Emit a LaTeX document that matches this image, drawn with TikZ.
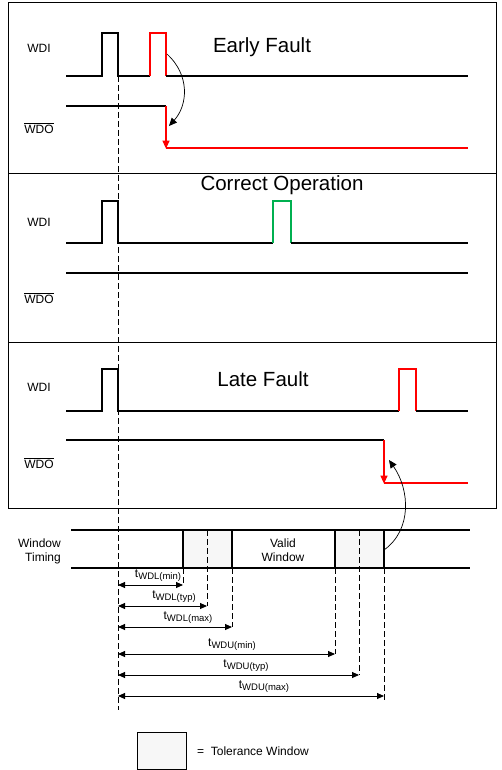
\documentclass[tikz,border=0pt]{standalone}
\usepackage{fontspec}
\setmainfont{Liberation Sans}
\usetikzlibrary{arrows.meta}
\definecolor{tolfill}{HTML}{F7F7F7}
\definecolor{okgreen}{HTML}{00B050}
\newcommand{\tsub}[1]{t\raisebox{-2.5pt}{\fontsize{9.5}{11}\selectfont #1}}
\begin{document}
\begin{tikzpicture}[x=1pt,y=-1pt,
  panel/.style={draw=black,line width=0.9pt},
  sig/.style={line width=1.3pt,line join=miter},
  redsig/.style={sig,draw=red},
  greensig/.style={sig,draw=okgreen},
  lbl/.style={font=\fontsize{12}{14}\selectfont,inner sep=0pt},
  title/.style={font=\fontsize{20.5}{24}\selectfont,inner sep=0pt},
  sub/.style={font=\fontsize{12}{14}\selectfont,inner sep=0pt,anchor=south},
  guide/.style={dash pattern=on 6pt off 3pt,line width=0.8pt},
  dim/.style={{Triangle[length=7pt,width=6pt]}-{Triangle[length=7pt,width=6pt]},line width=0.9pt},
  curv/.style={-{Triangle[length=8pt,width=7pt]},line width=0.7pt},
  tol/.style={fill=tolfill,draw=none},
  edge/.style={line width=1.6pt}]
\useasboundingbox (0,0) rectangle (501,770);
\fill[white] (0,0) rectangle (501,770);
% panels
\draw[panel] (8,2) rectangle (496,173);
\draw[panel] (8,173) rectangle (496,342);
\draw[panel] (8,342) rectangle (496,508);
% main guide
\coordinate (g0) at (118,76);
\coordinate (g1) at (118,710);
\draw[guide] (g0) -- (g1);

% ---------- Early Fault ----------
\node[lbl] (wdi1) at (39,48) {WDI};
\node[lbl] (wdo1) at (39,128) {$\overline{\mbox{WDO}}$};
\node[title] (t1) at (262,47) {Early Fault};
\draw[sig] (66,76) -- (102,76) -- (102,33) -- (118,33) -- (118,76) -- (150,76);
\draw[redsig] (150,76) -- (150,33) -- (166,33) -- (166,76);
\draw[sig] (166,76) -- (468,76);
\draw[sig] (66,106) -- (166,106);
\draw[redsig,-{Triangle[length=8pt,width=7pt]}] (166,106) -- (166,148.6);
\draw[redsig] (166,148) -- (468,148);
\coordinate (ea) at (167,54);
\coordinate (eb) at (169,126);
\draw[curv] (ea) .. controls (190,75) and (188,105) .. (eb);

% ---------- Correct Operation ----------
\node[lbl] (wdi2) at (39,222) {WDI};
\node[lbl] (wdo2) at (39,298) {$\overline{\mbox{WDO}}$};
\node[title] (t2) at (282,185) {Correct Operation};
\draw[sig] (66,243) -- (102,243) -- (102,201) -- (118,201) -- (118,243) -- (273,243);
\draw[greensig] (273,243) -- (273,201) -- (291,201) -- (291,243);
\draw[sig] (291,243) -- (468,243);
\draw[sig] (66,273) -- (468,273);

% ---------- Late Fault ----------
\node[lbl] (wdi3) at (39,387) {WDI};
\node[lbl] (wdo3) at (39,463) {$\overline{\mbox{WDO}}$};
\node[title] (t3) at (263,379) {Late Fault};
\draw[sig] (66,411) -- (102,411) -- (102,369) -- (118,369) -- (118,411) -- (399,411);
\draw[redsig] (399,411) -- (399,369) -- (416,369) -- (416,411);
\draw[sig] (416,411) -- (468,411);
\draw[sig] (66,440) -- (384,440);
\draw[redsig,-{Triangle[length=8pt,width=7pt]}] (384,440) -- (384,483.6);
\draw[redsig] (384,483) -- (468,483);

% ---------- Window timing ----------
\fill[tol] (183,530) rectangle (232,568);
\fill[tol] (335,530) rectangle (384,568);
\draw[sig] (71,530) -- (470,530);
\draw[sig] (71,568) -- (470,568);
\draw[edge] (183,530) -- (183,568);
\draw[edge] (232,530) -- (232,568);
\draw[edge] (335,530) -- (335,568);
\draw[edge] (384,530) -- (384,568);
\node[lbl,align=right,anchor=east] (wt) at (61,551) {Window\\Timing};
\node[lbl,align=center] (vw) at (283,550) {Valid\\Window};

\coordinate (la) at (384,550);
\coordinate (lb) at (389,460);
\draw[curv] (la) .. controls (412,530) and (410,490) .. (lb);

% guides
\draw[guide] (183,568) -- (183,585);
\draw[guide] (207,530) -- (207,606);
\draw[guide] (232,568) -- (232,627);
\draw[guide] (335,568) -- (335,654);
\draw[guide] (359,530) -- (359,675);
\draw[guide] (384,568) -- (384,700);

% dimension arrows
\coordinate (s1) at (118,585); \coordinate (e1) at (183,585);
\coordinate (s2) at (118,606); \coordinate (e2) at (207,606);
\coordinate (s3) at (118,627); \coordinate (e3) at (232,627);
\coordinate (s4) at (118,654); \coordinate (e4) at (335,654);
\coordinate (s5) at (118,675); \coordinate (e5) at (359,675);
\coordinate (s6) at (118,696); \coordinate (e6) at (384,696);
\draw[dim] (s1) -- (e1);
\draw[dim] (s2) -- (e2);
\draw[dim] (s3) -- (e3);
\draw[dim] (s4) -- (e4);
\draw[dim] (s5) -- (e5);
\draw[dim] (s6) -- (e6);
\node[sub] (d1) at (158,582) {\tsub{WDL(min)}};
\node[sub] (d2) at (174,603) {\tsub{WDL(typ)}};
\node[sub] (d3) at (188,624) {\tsub{WDL(max)}};
\node[sub] (d4) at (232,651) {\tsub{WDU(min)}};
\node[sub] (d5) at (246,672) {\tsub{WDU(typ)}};
\node[sub] (d6) at (264,693) {\tsub{WDU(max)}};

% legend
\draw[fill=tolfill,line width=0.9pt] (137,732) rectangle (186,769);
\node[lbl,anchor=west] (leg) at (197,751) {=\ \ Tolerance Window};
\end{tikzpicture}
\end{document}
